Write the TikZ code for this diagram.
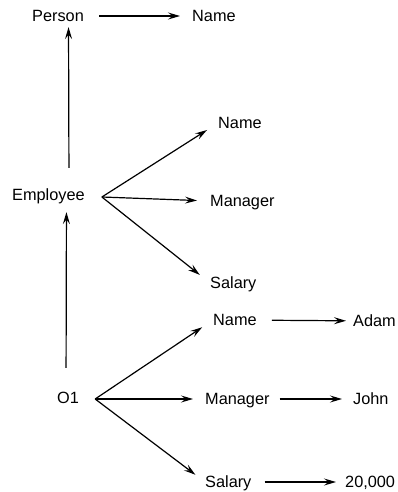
\documentclass[tikz,border=0pt]{standalone}
\usepackage{fontspec}
\setmainfont{Liberation Sans}
\usetikzlibrary{arrows.meta}
\begin{document}
\begin{tikzpicture}[x=1pt,y=-1pt,
  lbl/.style={anchor=west,inner sep=0pt,text height=11.8pt,text depth=0pt,font=\fontsize{16.3}{18}\selectfont},
  arr/.style={line width=1.2pt,-{Stealth[length=12pt,width=7pt,inset=4.5pt]}}]
\useasboundingbox (0,0) rectangle (397,492);
% text nodes
\node[lbl] (person) at (32,16) {Person};
\node[lbl] (name0) at (192,16) {Name};
\node[lbl] (emp) at (12,195) {Employee};
\node[lbl] (name1) at (218,123) {Name};
\node[lbl] (man1) at (210,201) {Manager};
\node[lbl] (sal1) at (210,283) {Salary};
\node[lbl] (o1) at (57,398) {O1};
\node[lbl] (name2) at (213,320) {Name};
\node[lbl] (man2) at (205,399) {Manager};
\node[lbl] (sal2) at (205,482) {Salary};
\node[lbl] (adam) at (353,321) {Adam};
\node[lbl] (john) at (353,399) {John};
\node[lbl] (sal) at (345,482) {20,000};
% fan origins
\coordinate (eo) at ([xshift=17pt,yshift=-2pt]emp.east);
\coordinate (oo) at ([xshift=16pt,yshift=-1pt]o1.east);
% connectors
\draw[arr,shorten <=15pt,shorten >=12pt] (person) -- (name0);
\draw[arr] ([xshift=20.5pt,yshift=21pt]emp.north) -- ([xshift=10.5pt,yshift=-5pt]person.south);
\draw[arr] ([xshift=-2pt,yshift=24pt]o1.north) -- ([xshift=18pt,yshift=-11pt]emp.south);
\draw[arr,shorten >=13pt] (eo) -- (name1.west);
\draw[arr,shorten >=13pt] (eo) -- (man1.west);
\draw[arr,shorten >=13pt] (eo) -- (sal1.west);
\draw[arr,shorten >=13pt] (oo) -- (name2.west);
\draw[arr,shorten >=12pt] (oo) -- (man2.west);
\draw[arr,shorten >=12pt] (oo) -- (sal2.west);
\draw[arr,shorten <=15pt,shorten >=7pt] (name2) -- (adam);
\draw[arr,shorten <=10pt,shorten >=11pt] (man2) -- (john);
\draw[arr,shorten <=13pt,shorten >=9pt] (sal2) -- (sal);
\end{tikzpicture}
\end{document}
